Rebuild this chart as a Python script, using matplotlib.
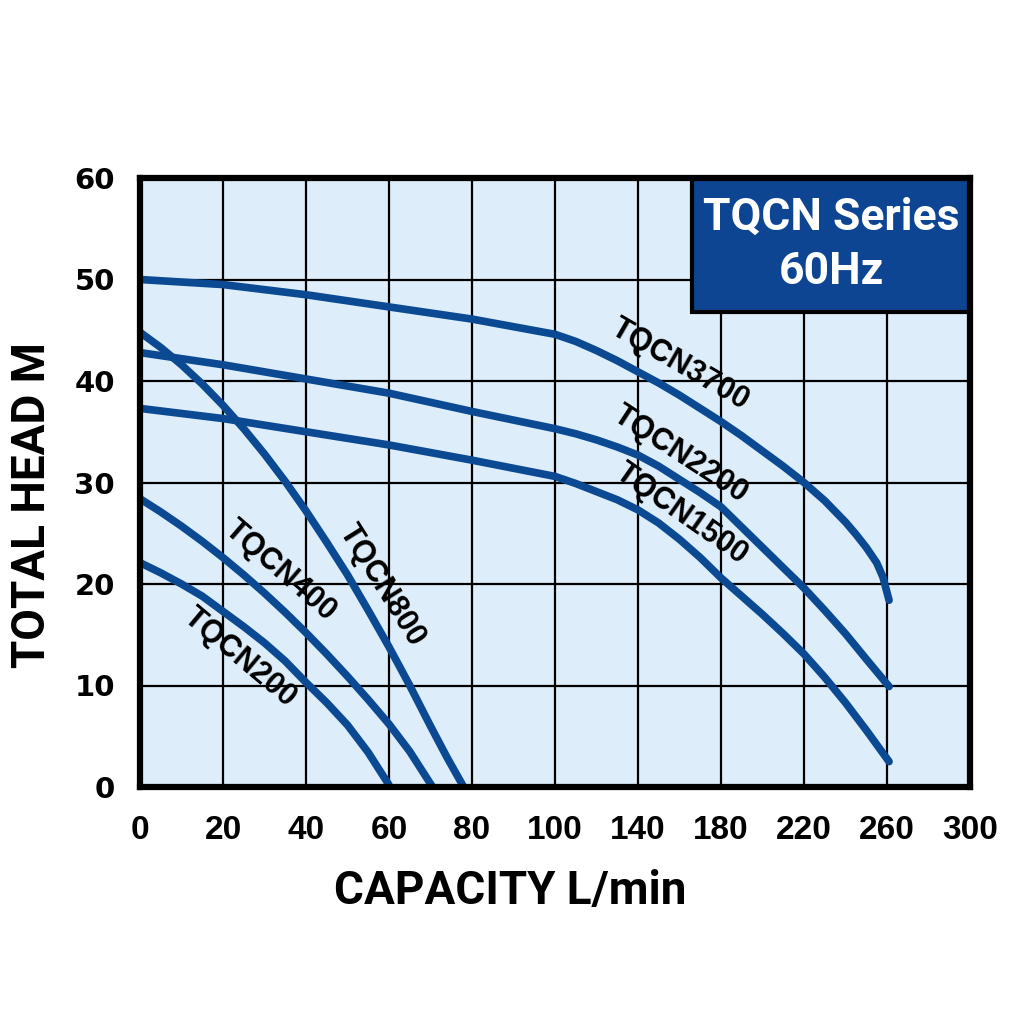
import numpy as np
import matplotlib
matplotlib.use('Agg')
import matplotlib.pyplot as plt
from matplotlib.patches import Rectangle

# capacity L/min vs total head m
q3700 = [0, 20, 40, 60, 80, 100, 110, 120, 130, 140, 150, 160, 170, 180, 190, 200, 210, 220,
         230, 240, 245, 250, 255, 258, 261]
h3700 = [50, 49.5, 48.5, 47.3, 46.1, 44.6, 43.9, 43.0, 42.0, 40.9, 39.8, 38.6, 37.3, 36.0, 34.6,
         33.1, 31.6, 30.0, 28.2, 26.1, 24.9, 23.6, 22.1, 20.7, 18.4]
q2200 = [0, 20, 40, 60, 80, 100, 110, 120, 130, 140, 150, 160, 170, 180, 190, 200, 210, 220,
         230, 240, 250, 261]
h2200 = [42.8, 41.6, 40.2, 38.8, 37.0, 35.3, 34.8, 34.2, 33.5, 32.7, 31.6, 30.3, 29.0, 27.6, 25.6,
         23.6, 21.6, 19.6, 17.4, 15.1, 12.6, 9.9]
q1500 = [0, 20, 40, 60, 80, 100, 110, 120, 130, 140, 150, 160, 170, 180, 190, 200, 210, 220,
         230, 240, 250, 261]
h1500 = [37.3, 36.3, 35.0, 33.7, 32.2, 30.6, 29.9, 29.1, 28.3, 27.3, 26.0, 24.4, 22.6, 20.6, 18.8,
         17.0, 15.1, 13.1, 10.8, 8.3, 5.6, 2.5]
q800 = [0, 5, 10, 15, 20, 25, 30, 35, 40, 45, 50, 55, 60, 65, 70, 74, 78]
h800 = [44.8, 43.3, 41.6, 39.7, 37.6, 35.3, 32.8, 30.1, 27.2, 24.1, 20.9, 17.4, 13.8, 10.0, 6.0,
        2.9, 0]
q400 = [0, 5, 10, 15, 20, 25, 30, 35, 40, 45, 50, 55, 60, 65, 70.5]
h400 = [28.4, 27.1, 25.7, 24.2, 22.6, 20.9, 19.1, 17.2, 15.2, 13.1, 10.9, 8.6, 6.2, 3.5, 0]
q200 = [0, 5, 10, 15, 20, 25, 30, 35, 40, 45, 50, 55, 60]
h200 = [22.1, 21.1, 20.0, 18.8, 17.3, 15.8, 14.2, 12.4, 10.3, 8.3, 6.1, 3.4, 0.2]

xticks = [0, 20, 40, 60, 80, 100, 140, 180, 220, 260, 300]
yticks = [0, 10, 20, 30, 40, 50, 60]

# label text, position (L/min, m), angle
labels = [
    ('TQCN3700', 160.4, 41.6, -30),
    ('TQCN2200', 160.4, 32.8, -33),
    ('TQCN1500', 160.9, 26.9, -35),
    ('TQCN800', 58.3, 19.9, -58),
    ('TQCN400', 33.7, 21.3, -41),
    ('TQCN200', 24.0, 12.7, -40),
]

blue = '#0b4a93'


# x axis: 20 L/min per cell up to 100, then 40 L/min per cell
def fwd(x):
    x = np.asarray(x, dtype=float)
    return np.where(x <= 100, x / 20, 5 + (x - 100) / 40)


def inv(g):
    g = np.asarray(g, dtype=float)
    return np.where(g <= 5, g * 20, 100 + (g - 5) * 40)


fig = plt.figure(figsize=(10.24, 10.24), dpi=100)
ax = fig.add_axes([140/1024, 1-787/1024, 830/1024, 609/1024])
ax.set_facecolor('#ddeefa')
ax.set_xscale('function', functions=(fwd, inv))
ax.set_xlim(0, 300)
ax.set_ylim(0, 60)
ax.set_xticks(xticks)
ax.set_yticks(yticks)
ax.set_xticklabels([str(v) for v in xticks], family='Liberation Sans',
                   fontweight='bold', fontsize=24)
ax.set_yticklabels([str(v) for v in yticks], family='DejaVu Sans', fontweight='bold', fontsize=21)
ax.tick_params(axis='x', length=0, pad=20)
ax.tick_params(axis='y', length=0, pad=18)
ax.grid(True, color='black', linewidth=1.6)
ax.set_axisbelow(True)
for s in ax.spines.values():
    s.set_linewidth(4.5)
    s.set_zorder(5)

for q, h in [(q3700, h3700), (q2200, h2200), (q1500, h1500), (q800, h800), (q400, h400), (q200, h200)]:
    ax.plot(q, h, color=blue, linewidth=5.5, solid_capstyle='round', solid_joinstyle='round', zorder=3)

for txt, x, y, rot in labels:
    ax.text(x, y, txt, rotation=rot, rotation_mode='anchor', ha='center', va='center',
            family='Liberation Sans', fontweight='bold', fontsize=22, color='black', zorder=4)

# title box
ax.add_patch(Rectangle((0.665, 0.78), 0.335, 0.22, transform=ax.transAxes,
                       facecolor='#0d4592', edgecolor='black', linewidth=3, zorder=4, clip_on=False))
ax.text(0.833, 0.935, 'TQCN Series', transform=ax.transAxes, ha='center', va='center',
        family='Roboto', fontweight='bold', fontsize=32, color='white', zorder=6)
ax.text(0.833, 0.845, '60Hz', transform=ax.transAxes, ha='center', va='center',
        family='Roboto', fontweight='bold', fontsize=32, color='white', zorder=6)

ax.set_xlabel('CAPACITY L/min', family='Roboto', fontweight='bold', fontsize=33, va='center')
ax.xaxis.set_label_coords(0.446, -0.171)
ax.set_ylabel('TOTAL HEAD M', family='Roboto', fontweight='bold', fontsize=33, va='center')
ax.yaxis.set_label_coords(-0.130, 0.463)

fig.savefig('out.png', dpi=100, facecolor='white')
